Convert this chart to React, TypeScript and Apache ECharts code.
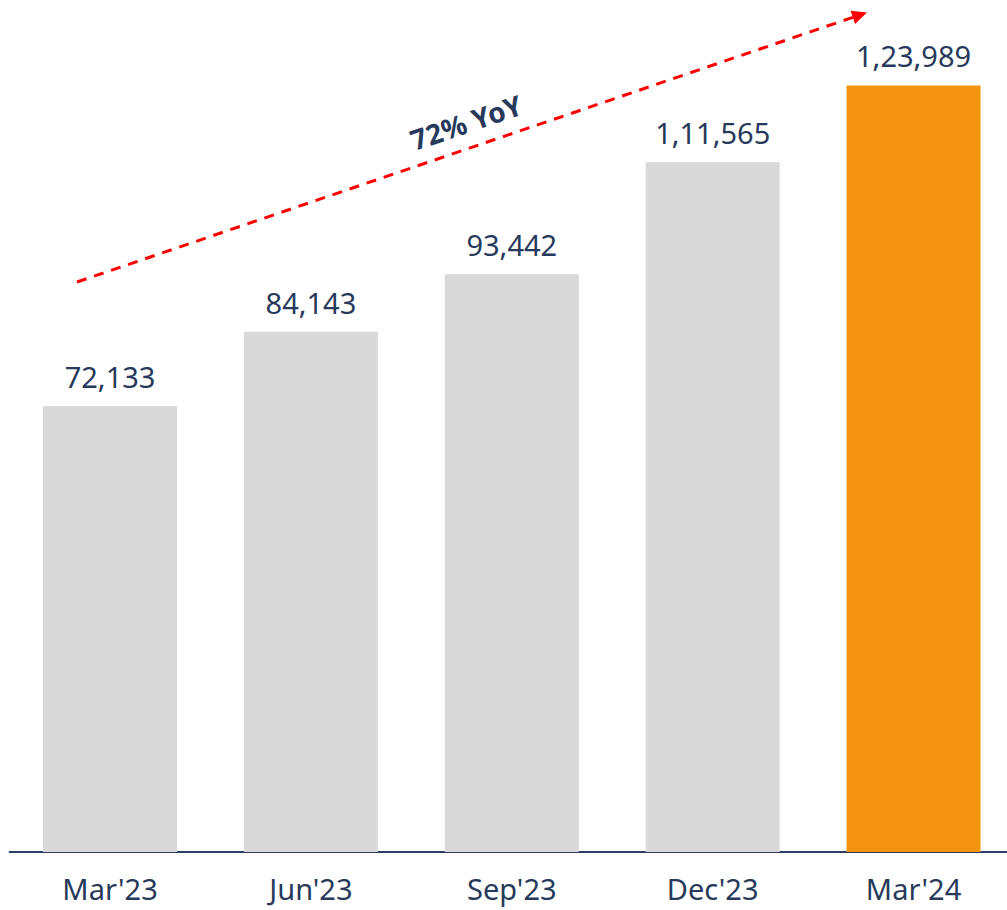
import React, { useEffect, useRef } from "react";
import * as echarts from "echarts";

const categories = ["Mar'23", "Jun'23", "Sep'23", "Dec'23", "Mar'24"];
const values = [72133, 84143, 93442, 111565, 123989];
const barColors = ["#D9D9D9", "#D9D9D9", "#D9D9D9", "#D9D9D9", "#F39410"];
const annotationText = "72% YoY";

const FONT = "'Noto Sans', 'Open Sans', sans-serif";
const TEXT_COLOR = "#283A5B";

function formatIndian(n: number): string {
  const s = String(Math.round(n));
  if (s.length <= 3) return s;
  const last3 = s.slice(-3);
  let rest = s.slice(0, -3);
  const parts: string[] = [];
  while (rest.length > 2) {
    parts.unshift(rest.slice(-2));
    rest = rest.slice(0, -2);
  }
  if (rest.length) parts.unshift(rest);
  return parts.join(",") + "," + last3;
}

export default function App() {
  const ref = useRef<HTMLDivElement>(null);
  useEffect(() => {
    if (!ref.current) return;
    const chart = echarts.init(ref.current, null, { renderer: "svg" });
    const x0 = 77, y0 = 282, tx = 867, ty = 12.5;
    const dx = tx - x0, dy = ty - y0;
    const len = Math.sqrt(dx * dx + dy * dy);
    const ux = dx / len, uy = dy / len;
    const nx = -uy, ny = ux;
    const headLen = 15, headHalf = 7;
    const bx = tx - headLen * ux, by = ty - headLen * uy;
    const angle = Math.atan2(-dy, dx);
    chart.setOption({
      animation: false,
      grid: { left: 9.6, right: 0, top: 0, bottom: 58, containLabel: false },
      xAxis: {
        type: "category",
        data: categories,
        axisLine: { show: true, lineStyle: { color: "#2B3F63", width: 2 } },
        axisTick: { show: false },
        axisLabel: {
          color: TEXT_COLOR,
          fontFamily: FONT,
          fontSize: 29,
          margin: 22,
        },
      },
      yAxis: {
        type: "value",
        min: 0,
        max: 137800,
        show: false,
        splitLine: { show: false },
      },
      series: [
        {
          type: "bar",
          data: values.map((v, i) => ({ value: v, itemStyle: { color: barColors[i] } })),
          barWidth: 134,
          label: {
            show: true,
            position: "top",
            distance: 15,
            color: TEXT_COLOR,
            fontFamily: FONT,
            fontSize: 29,
            formatter: (p: any) => formatIndian(p.value),
          },
        },
      ],
      graphic: [
        {
          type: "line",
          shape: { x1: x0, y1: y0, x2: bx, y2: by },
          style: { stroke: "#FF0000", lineWidth: 3, lineDash: [10, 8] },
          silent: true,
        },
        {
          type: "polygon",
          shape: {
            points: [
              [tx, ty],
              [bx + headHalf * nx, by + headHalf * ny],
              [bx - headHalf * nx, by - headHalf * ny],
            ],
          },
          style: { fill: "#FF0000" },
          silent: true,
        },
        {
          type: "text",
          x: 466,
          y: 122,
          rotation: angle,
          style: {
            text: annotationText,
            fill: TEXT_COLOR,
            font: `bold 28px ${FONT}`,
            textAlign: "center",
            textVerticalAlign: "middle",
          },
          silent: true,
        },
      ],
    });
    return () => chart.dispose();
  }, []);
  return (
    <div
      style={{
        position: "absolute",
        left: 0,
        top: 0,
        width: 1007,
        height: 910,
        overflow: "hidden",
      }}
    >
      <div ref={ref} style={{ width: 1014, height: 910 }} />
    </div>
  );
}
